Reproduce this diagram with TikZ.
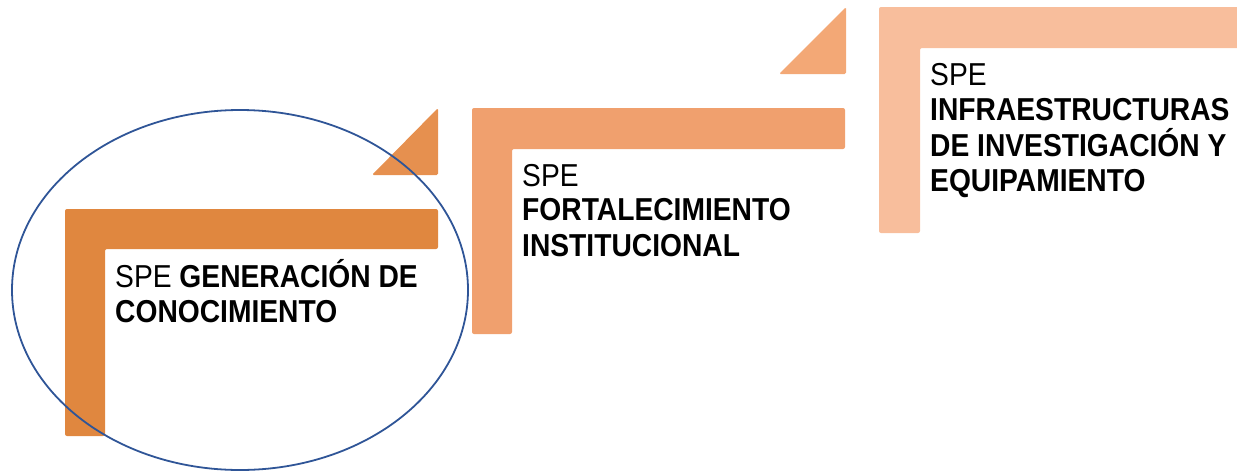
\documentclass[tikz,border=0pt]{standalone}
\usepackage{fontspec}
\setmainfont{Liberation Sans}[FakeStretch=0.89]
\definecolor{oA}{HTML}{E0873F}
\definecolor{tA}{HTML}{E6904F}
\definecolor{oB}{HTML}{F0A06E}
\definecolor{tB}{HTML}{F3A876}
\definecolor{oC}{HTML}{F8BE9C}
\definecolor{ring}{HTML}{2F5597}
\tikzset{
  lshape/.style={rounded corners=2pt},
  lbl/.style={anchor=base west, inner sep=0pt, font=\fontsize{31.7}{36}\selectfont}
}
\begin{document}
\begin{tikzpicture}[x=1pt,y=-1pt]
\useasboundingbox (0,0) rectangle (1237,472);
\clip (0,0) rectangle (1237,472);
% step 1
\fill[oA,lshape] (65,209) -- (438,209) -- (438,249) -- (105,249) -- (105,436) -- (65,436) -- cycle;
\fill[tA,rounded corners=1.5pt] (372,175) -- (438,108) -- (438,175) -- cycle;
% step 2
\fill[oB,lshape] (472,108) -- (845,108) -- (845,149) -- (512,149) -- (512,334) -- (472,334) -- cycle;
\fill[tB,rounded corners=1.5pt] (779,74) -- (846,7) -- (846,74) -- cycle;
% step 3
\fill[oC,lshape] (879,7) -- (1260,7) -- (1260,48) -- (920,48) -- (920,233) -- (879,233) -- cycle;
% texts
\node[lbl] (a1) at (115,287) {SPE \textbf{GENERACIÓN DE}};
\node[lbl] (a2) at (115,322.7) {\textbf{CONOCIMIENTO}};
\node[lbl] (b1) at (522,186) {SPE};
\node[lbl] (b2) at (522,220.7) {\textbf{FORTALECIMIENTO}};
\node[lbl] (b3) at (522,256.7) {\textbf{INSTITUCIONAL}};
\node[lbl] (c1) at (930,85) {SPE};
\node[lbl] (c2) at (930,120.7) {\textbf{INFRAESTRUCTURAS}};
\node[lbl] (c3) at (930,156.7) {\textbf{DE INVESTIGACIÓN Y}};
\node[lbl] (c4) at (930,191.7) {\textbf{EQUIPAMIENTO}};
% ellipse
\draw[ring, line width=1.8pt] (240,290) ellipse [x radius=228, y radius=180];
\end{tikzpicture}
\end{document}
